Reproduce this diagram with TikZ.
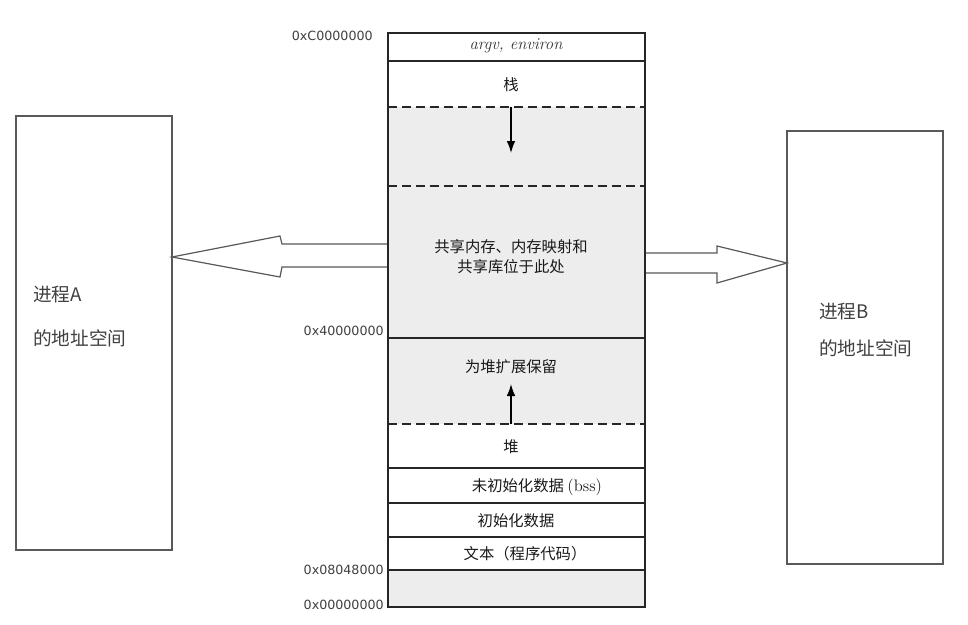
\documentclass[tikz,border=0pt]{standalone}
\usepackage{fontspec}
\newfontfamily\cjk{Noto Sans CJK SC}
\newfontfamily\hexfont{DejaVu Sans}
\usetikzlibrary{arrows.meta}
\begin{document}
\begin{tikzpicture}[x=0.75pt,y=-0.75pt,
  col/.style={draw=black!85, line width=0.9pt},
  dashline/.style={draw=black!85, line width=0.9pt, dash pattern=on 6.5pt off 4pt},
  lbl/.style={font=\cjk\fontsize{11.5}{15}\selectfont, text=black!90, inner sep=0pt, align=center},
  hex/.style={font=\hexfont\fontsize{9.5}{11}\selectfont, text=black!75, inner sep=0pt, anchor=east},
  boxlbl/.style={font=\cjk\fontsize{14}{16}\selectfont, text=black!75, inner sep=0pt, anchor=west},
  procbox/.style={draw=black!65, line width=1pt},
  hollow/.style={draw=black!65, fill=white, line width=0.9pt, line join=miter},
  growth/.style={-{Latex[length=9pt,width=6.5pt]}, line width=1.1pt, draw=black},
  ]
\useasboundingbox (0,0) rectangle (968,625);
\fill[white] (0,0) rectangle (968,625);

% shaded regions of the address space
\fill[black!7] (388,107) rectangle (645,424);
\fill[black!7] (388,570) rectangle (645,607);

% column
\coordinate (colTL) at (388,33);
\coordinate (colBR) at (645,607);
\draw[col] (colTL) rectangle (colBR);
\foreach \yy in {61,338,468,503,537,570}{
  \draw[col] (388,\yy) -- (645,\yy);
}
\foreach \yy in {107,186,424}{
  \draw[dashline] (388,\yy) -- (645,\yy);
}

% growth arrows
\coordinate (stackStart) at (511,107);
\coordinate (stackEnd) at (511,153);
\coordinate (heapStart) at (511,424);
\coordinate (heapEnd) at (511,384);
\draw[growth] (stackStart) -- (stackEnd);
\draw[growth] (heapStart) -- (heapEnd);

% column labels
\node[font=\itshape\fontsize{12.5}{14}\selectfont, text=black!80, inner sep=0pt] (argv) at (516,46) {argv, environ};
\node[lbl] (stack) at (511,85) {栈};
\node[lbl] (shared) at (511,257) {共享内存、内存映射和\\共享库位于此处};
\node[lbl] (reserve) at (511,367) {为堆扩展保留};
\node[lbl] (heap) at (511,447) {堆};
\node[lbl] (bss) at (537,487) {未初始化数据 {\rmfamily\fontsize{12.5}{14}\selectfont(bss)}};
\node[lbl] (data) at (516,521) {初始化数据};
\node[lbl] (text) at (525,554) {文本（程序代码）};

% addresses
\node[hex] (aC) at (373,36) {0xC0000000};
\node[hex] (a4) at (384,331) {0x40000000};
\node[hex] (a08) at (384,570) {0x08048000};
\node[hex] (a00) at (384,605) {0x00000000};

% process boxes
\draw[procbox] (16,116) rectangle (172,550);
\draw[procbox] (787,131) rectangle (943,564);
\node[boxlbl] (pA1) at (33,295) {进程A};
\node[boxlbl] (pA2) at (33,338) {的地址空间};
\node[boxlbl] (pB1) at (819,312) {进程B};
\node[boxlbl] (pB2) at (819,348) {的地址空间};

% hollow arrows
\draw[hollow] (388,244) -- (282,244) -- (280,236) -- (172,257) -- (280,277) -- (282,267) -- (388,267);
\draw[black!85, line width=1.8pt] (388,243) -- (388,268);
\draw[hollow] (645,253) -- (717,253) -- (717,246) -- (787,263) -- (717,283) -- (717,273) -- (645,273);
\draw[black!85, line width=1.8pt] (645,252) -- (645,274);
\end{tikzpicture}
\end{document}
